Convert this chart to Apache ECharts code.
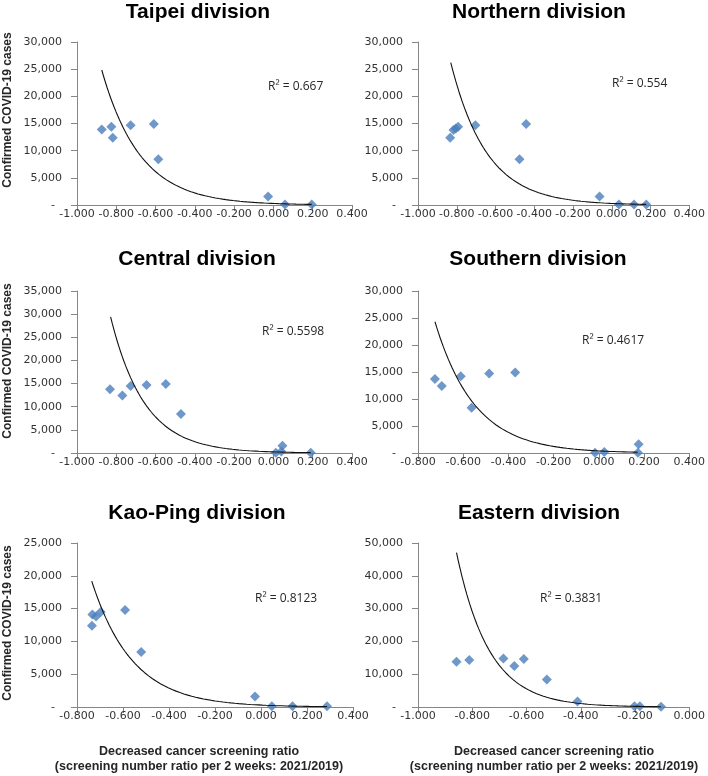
<!DOCTYPE html>
<html><head><meta charset="utf-8">
<script src="https://cdn.jsdelivr.net/npm/echarts@6/dist/echarts.min.js"></script>
<style>html,body{margin:0;padding:0;background:#fff}#c{width:708px;height:776px}</style>
</head><body><div id="c"></div>
<script>
// ---- data ----
const titles = ['Taipei division','Northern division','Central division','Southern division','Kao-Ping division','Eastern division'];
const r2Labels = ['R\u00B2 = 0.667','R\u00B2 = 0.554','R\u00B2 = 0.5598','R\u00B2 = 0.4617','R\u00B2 = 0.8123','R\u00B2 = 0.3831'];
const yAxisName = 'Confirmed COVID-19 cases';
const xAxisName1 = 'Decreased cancer screening ratio';
const xAxisName2 = '(screening number ratio per 2 weeks: 2021/2019)';

const taipeiX = [-0.874,-0.825,-0.818,-0.727,-0.609,-0.586,-0.027,0.059,0.195];
const taipeiY = [13900,14400,12400,14700,14900,8400,1550,100,100];
const northernX = [-0.834,-0.817,-0.805,-0.793,-0.704,-0.442,-0.476,-0.063,0.037,0.115,0.178];
const northernY = [12400,13800,14100,14400,14700,14900,8400,1550,100,100,100];
const centralX = [-0.832,-0.769,-0.727,-0.646,-0.548,-0.471,0.046,0.012,0.040,0.190];
const centralY = [13800,12400,14500,14700,14900,8400,1550,50,300,50];
const southernX = [-0.725,-0.695,-0.611,-0.563,-0.485,-0.370,-0.017,0.024,0.176,0.173];
const southernY = [13700,12400,14200,8400,14700,14900,50,200,1600,50];
const kaopingX = [-0.735,-0.733,-0.717,-0.697,-0.591,-0.521,-0.026,0.047,0.137,0.287];
const kaopingY = [12400,14100,13800,14500,14800,8400,1600,100,100,100];
const easternX = [-0.858,-0.811,-0.685,-0.645,-0.610,-0.525,-0.412,-0.202,-0.182,-0.104];
const easternY = [13800,14300,14800,12500,14600,8400,1700,200,200,50];

// exponential trendlines y = a * exp(b * x), as drawn in the picture
const trendA = [288, 295, 240, 390, 300, 38];
const trendB = [-5.1, -5.4, -5.8, -5.7, -5.65, -8.3];
const trendStart = [-0.874, -0.831, -0.829, -0.725, -0.736, -0.858];
const trendEnd = [0.195, 0.178, 0.19, 0.172, 0.287, -0.104];

const xMin = [-1, -1, -1, -0.8, -0.8, -1];
const xMax = [0.4, 0.4, 0.4, 0.4, 0.4, 0];
const xStep = [0.2, 0.2, 0.2, 0.2, 0.2, 0.2];
const yMax = [30000, 30000, 35000, 30000, 25000, 50000];
const yStep = [5000, 5000, 5000, 5000, 5000, 10000];

const seriesX = [taipeiX, northernX, centralX, southernX, kaopingX, easternX];
const seriesY = [taipeiY, northernY, centralY, southernY, kaopingY, easternY];

// ---- layout ----
const grids = [
  {left:77, top:42, width:275, height:163},
  {left:418, top:42, width:275, height:163},
  {left:77, top:291, width:275, height:162},
  {left:418, top:291, width:275, height:162},
  {left:77, top:543, width:276, height:164},
  {left:418, top:543, width:275, height:164}
];
const titlePos = [[198,12],[539,12],[197,259],[538,259],[197,513],[539,513]];
const r2Pos = [[268,87],[612,84],[262,332],[582,341],[255,599],[540,599]];
const yNamePos = [[8,110],[8,361],[8,623]];
const xNamePos = [[199,752,767],[554,752,767]];

const tickFont = 'DejaVu Sans';
const axisColor = '#868686';
const labelColor = '#333333';
const nameFont = 'bold 12px "Liberation Sans", Arial, sans-serif';
const xNameFont = 'bold 12.5px "Liberation Sans", Arial, sans-serif';

const xAxes = [], yAxes = [], series = [], graphics = [];
for (let i = 0; i < 6; i++) {
  xAxes.push({
    type:'value', gridIndex:i, min:xMin[i], max:xMax[i], interval:xStep[i],
    axisLine:{show:true, onZero:false, lineStyle:{color:axisColor, width:1}},
    axisTick:{show:true, inside:false, length:6, lineStyle:{color:axisColor}},
    axisLabel:{margin:4, fontFamily:tickFont, fontSize:11, color:labelColor,
      formatter:v => v.toFixed(3)},
    splitLine:{show:false}
  });
  yAxes.push({
    type:'value', gridIndex:i, min:0, max:yMax[i], interval:yStep[i],
    axisLine:{show:true, onZero:false, lineStyle:{color:axisColor, width:1}},
    axisTick:{show:true, inside:false, length:6, lineStyle:{color:axisColor}},
    axisLabel:{margin:15, fontFamily:tickFont, fontSize:11, color:labelColor,
      formatter:v => v === 0 ? '-  ' : v.toLocaleString('en-US')},
    splitLine:{show:false}
  });
  const pts = seriesX[i].map((x, k) => [x, seriesY[i][k]]);
  series.push({
    type:'scatter', xAxisIndex:i, yAxisIndex:i, data:pts,
    symbol:'diamond', symbolSize:[10,10],
    itemStyle:{color:'#4A7EBB'}, z:2, silent:true
  });
  const trend = [];
  const n = 120;
  for (let k = 0; k <= n; k++) {
    const x = trendStart[i] + (trendEnd[i] - trendStart[i]) * k / n;
    trend.push([x, trendA[i] * Math.exp(trendB[i] * x)]);
  }
  series.push({
    type:'line', xAxisIndex:i, yAxisIndex:i, data:trend, showSymbol:false,
    smooth:false, lineStyle:{color:'#111111', width:1.1}, z:3, silent:true
  });
  graphics.push({type:'text', x:titlePos[i][0], y:titlePos[i][1],
    style:{text:titles[i], font:'bold 21px "Liberation Sans", Arial, sans-serif', fill:'#000',
      align:'center', verticalAlign:'middle', textAlign:'center', textVerticalAlign:'middle'}});
  graphics.push({type:'text', x:r2Pos[i][0], y:r2Pos[i][1],
    style:{text:r2Labels[i], font:'12px "Open Sans", sans-serif', fill:'#262626',
      align:'left', verticalAlign:'middle', textAlign:'left', textVerticalAlign:'middle'}});
}
for (const p of yNamePos) {
  graphics.push({type:'text', x:p[0], y:p[1], rotation:Math.PI/2,
    style:{text:yAxisName, font:nameFont, fill:'#262626',
      align:'center', verticalAlign:'middle', textAlign:'center', textVerticalAlign:'middle'}});
}
for (const p of xNamePos) {
  graphics.push({type:'text', x:p[0], y:p[1],
    style:{text:xAxisName1, font:xNameFont, fill:'#262626',
      align:'center', verticalAlign:'middle', textAlign:'center', textVerticalAlign:'middle'}});
  graphics.push({type:'text', x:p[0], y:p[2],
    style:{text:xAxisName2, font:xNameFont, fill:'#262626',
      align:'center', verticalAlign:'middle', textAlign:'center', textVerticalAlign:'middle'}});
}

const chart = echarts.init(document.getElementById('c'), null, {renderer:'canvas'});
chart.setOption({
  animation:false,
  backgroundColor:'#ffffff',
  grid:grids,
  xAxis:xAxes,
  yAxis:yAxes,
  series:series,
  graphic:graphics
});
</script>
</body></html>
